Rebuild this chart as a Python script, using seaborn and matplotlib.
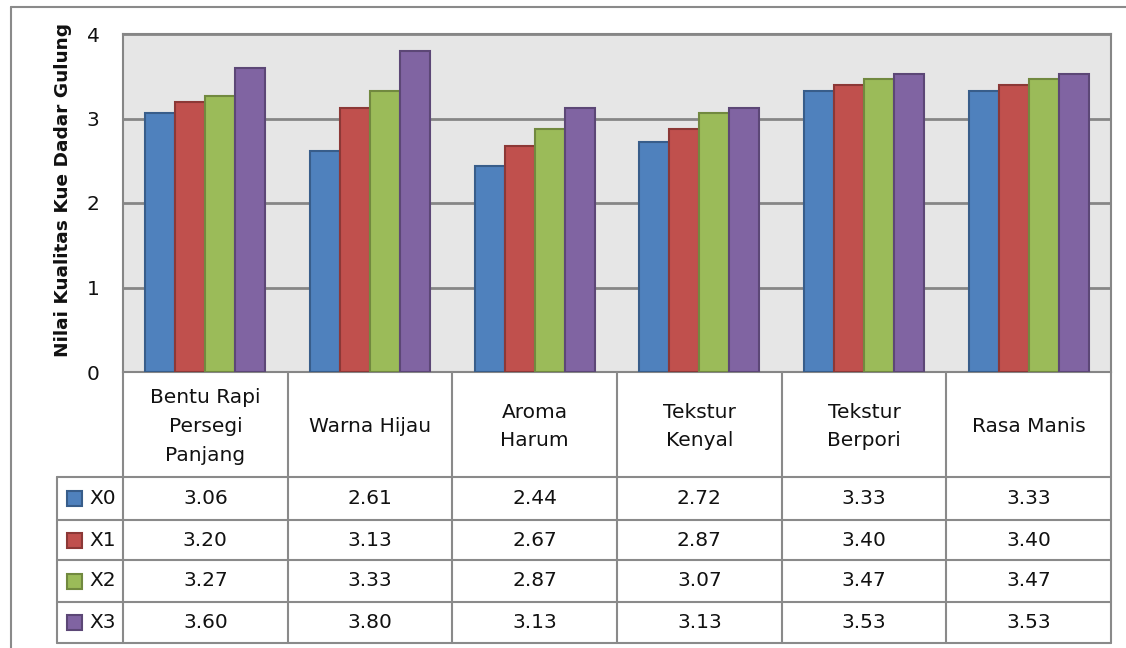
import matplotlib
matplotlib.use("Agg")
import matplotlib.pyplot as plt
from matplotlib.lines import Line2D
from matplotlib.patches import Rectangle
import seaborn as sns
import pandas as pd

categories = ["Bentu Rapi\nPersegi\nPanjang", "Warna Hijau", "Aroma\nHarum",
              "Tekstur\nKenyal", "Tekstur\nBerpori", "Rasa Manis"]
series = ["X0", "X1", "X2", "X3"]
x0 = [3.06, 2.61, 2.44, 2.72, 3.33, 3.33]
x1 = [3.20, 3.13, 2.67, 2.87, 3.40, 3.40]
x2 = [3.27, 3.33, 2.87, 3.07, 3.47, 3.47]
x3 = [3.60, 3.80, 3.13, 3.13, 3.53, 3.53]
values = [x0, x1, x2, x3]
y_ticks = [0, 1, 2, 3, 4]
y_label = "Nilai Kualitas Kue Dadar Gulung"

fills = ["#4F81BD", "#C0504D", "#9BBB59", "#8064A2"]
edges = ["#385D8A", "#8C3836", "#71893F", "#5C4776"]
grid_c = "#868686"

rows = []
for s, vals in zip(series, values):
    for c, v in zip(categories, vals):
        rows.append({"cat": c, "series": s, "val": v})
df = pd.DataFrame(rows)

sns.set_theme(style="white")
plt.rcParams["font.family"] = ["DejaVu Sans"]

W, H = 1126, 648
fig = plt.figure(figsize=(W / 100, H / 100), dpi=100)

def fx(x):
    return x / W

def fy(y):
    return 1 - y / H

L, R, T, B = 123, 1111, 34, 372
ax = fig.add_axes([fx(L), fy(B), (R - L) / W, (B - T) / H])
ax.set_facecolor("#E6E6E6")

sns.barplot(data=df, x="cat", y="val", hue="series", order=categories,
            hue_order=series, palette=fills, width=0.73, legend=False,
            saturation=1, ax=ax, zorder=3)
for cont, ec in zip(ax.containers, edges):
    for p in cont:
        p.set_edgecolor(ec)
        p.set_linewidth(1.5)

ax.set_xlim(-0.5, len(categories) - 0.5)
ax.set_ylim(0, 4)
ax.set_yticks(y_ticks)
ax.set_yticklabels([str(t) for t in y_ticks], fontsize=14.5, color="#111111")
ax.tick_params(axis="y", length=0, pad=17)
ax.set_xticks([])
ax.set_xlabel("")
ax.set_ylabel(y_label, fontsize=13.3, fontweight="bold", labelpad=0,
              color="#111111")
ax.yaxis.set_label_coords(-0.0516, 0.538)
ax.grid(axis="y", color=grid_c, linewidth=2, zorder=1)
ax.set_axisbelow(True)
for sp in ax.spines.values():
    sp.set_visible(True)
    sp.set_color(grid_c)
    sp.set_linewidth(1.5)

lc = "#8A8A8A"
def hline(y, xa, xb):
    fig.add_artist(Line2D([fx(xa), fx(xb)], [fy(y), fy(y)], color=lc, lw=1.5))

def vline(x, ya, yb):
    fig.add_artist(Line2D([fx(x), fx(x)], [fy(ya), fy(yb)], color=lc, lw=1.5))

# outer chart border
hline(7, 11, W)
vline(11, 7, H)

# table grid
col_w = (R - L) / len(categories)
col_x = [L + i * col_w for i in range(len(categories) + 1)]
row_y = [477, 520, 560, 602, 643]
for xv in col_x:
    vline(xv, B, row_y[-1])
vline(57, row_y[0], row_y[-1])
for yv in row_y:
    hline(yv, 57, R)

# header
for i, c in enumerate(categories):
    cx = (col_x[i] + col_x[i + 1]) / 2
    fig.text(fx(cx), fy((B + row_y[0]) / 2 + 2), c, ha="center", va="center",
             fontsize=14.5, linespacing=1.65, color="#111111")

# value rows
for r, (s, vals) in enumerate(zip(series, values)):
    cy = (row_y[r] + row_y[r + 1]) / 2
    fig.add_artist(Rectangle((fx(67), fy(cy + 7.5)), 15 / W, 15 / H,
                             facecolor=fills[r], edgecolor=edges[r], lw=1.5))
    fig.text(fx(89), fy(cy), s, ha="left", va="center", fontsize=14.5,
             color="#111111")
    for i, v in enumerate(vals):
        cx = (col_x[i] + col_x[i + 1]) / 2
        fig.text(fx(cx), fy(cy), f"{v:.2f}", ha="center", va="center",
                 fontsize=14.5, color="#111111")

fig.savefig("out.png", dpi=100)
